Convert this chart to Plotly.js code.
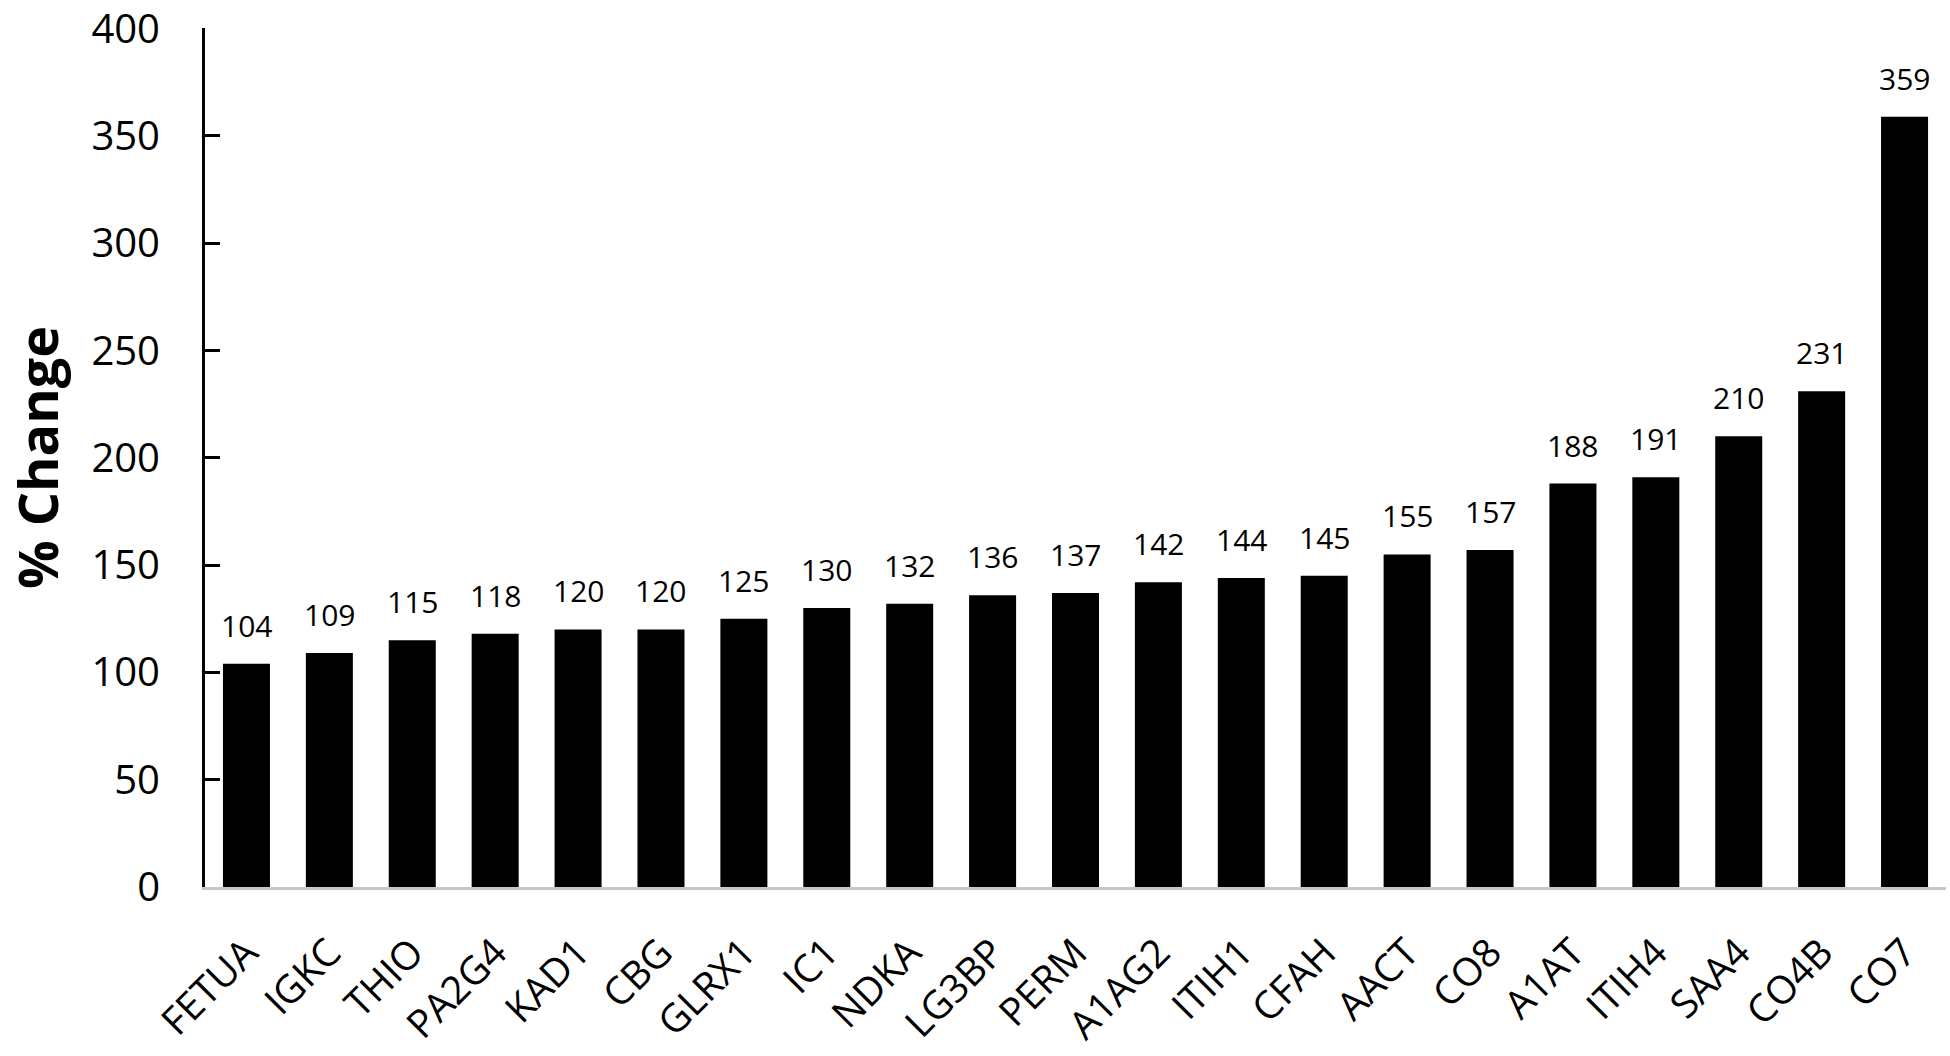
<!DOCTYPE html>
<html>
<head>
<meta charset="utf-8">
<script src="https://cdn.plot.ly/plotly-3.0.1.min.js"></script>
<style>
  html, body { margin: 0; padding: 0; background: #fff; }
  #chart { width: 1950px; height: 1056px; }
</style>
</head>
<body>
<div id="chart"></div>
<script>
var proteins = ["FETUA","IGKC","THIO","PA2G4","KAD1","CBG","GLRX1","IC1","NDKA","LG3BP","PERM","A1AG2","ITIH1","CFAH","AACT","CO8","A1AT","ITIH4","SAA4","CO4B","CO7"];
var pctChange = [104,109,115,118,120,120,125,130,132,136,137,142,144,145,155,157,188,191,210,231,359];
var yTickVals = [0,50,100,150,200,250,300,350,400];

var FONT = "Open Sans, Segoe UI, Noto Sans, sans-serif";

var trace = {
  type: "bar",
  x: proteins,
  y: pctChange,
  marker: { color: "#000000", line: { width: 0 } },
  width: 0.567,
  hoverinfo: "x+y"
};

var annotations = proteins.map(function (p, i) {
  return {
    x: p, y: pctChange[i], xref: "x", yref: "y",
    text: String(pctChange[i]),
    showarrow: false, yanchor: "bottom", yshift: 16,
    font: { family: FONT, size: 30, color: "#000" }
  };
});

var layout = {
  width: 1950, height: 1056,
  paper_bgcolor: "#ffffff", plot_bgcolor: "#ffffff",
  margin: { l: 205, r: 4, t: 28, b: 169 },
  showlegend: false,
  bargap: 0.43,
  xaxis: {
    type: "category",
    range: [-0.5, 20.5],
    tickangle: -45,
    ticks: "",
    showline: true, linecolor: "#c8c8c8", linewidth: 3,
    showgrid: false, zeroline: false,
    tickfont: { family: FONT, size: 39, color: "#000" },
    ticklabelstandoff: 24,
    automargin: false
  },
  yaxis: {
    range: [0, 400.3],
    tickvals: yTickVals,
    ticktext: yTickVals.map(String),
    ticks: "inside", ticklen: 15, tickwidth: 3, tickcolor: "#000",
    showline: true, linecolor: "#000", linewidth: 3,
    showgrid: false, zeroline: false,
    tickfont: { family: FONT, size: 40, color: "#000" },
    ticklabelstandoff: 34,
    ticklabeloverflow: "allow",
    title: { text: "<b>% Change</b>", standoff: 30, font: { family: FONT, size: 54, color: "#000" } },
    automargin: false
  },
  annotations: annotations
};

Plotly.newPlot("chart", [trace], layout, { displayModeBar: false, staticPlot: true });
</script>
</body>
</html>
